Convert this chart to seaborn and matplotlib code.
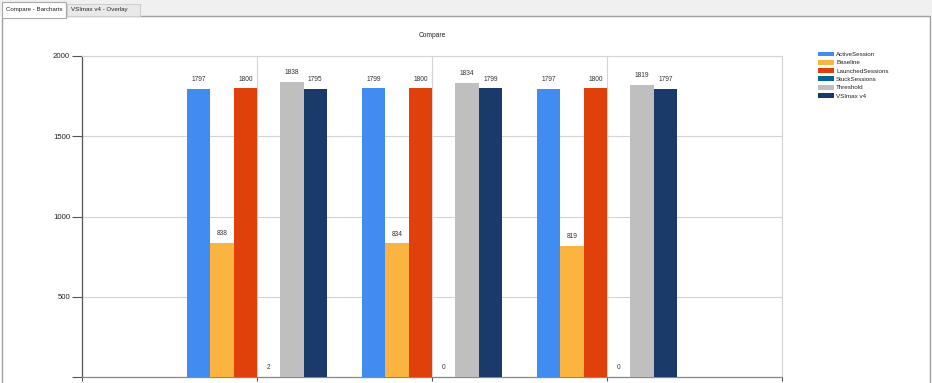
import matplotlib
matplotlib.use("Agg")
import matplotlib.pyplot as plt
from matplotlib.patches import Rectangle
import seaborn as sns
import pandas as pd

runs = ["Run 1", "Run 2", "Run 3"]
series = ["ActiveSession", "Baseline", "LaunchedSessions", "StuckSessions", "Threshold", "VSImax v4"]
active_session = [1797, 1799, 1797]
baseline = [838, 834, 819]
launched_sessions = [1800, 1800, 1800]
stuck_sessions = [2, 0, 0]
threshold = [1838, 1834, 1819]
vsimax_v4 = [1795, 1799, 1797]
colors = ["#418CF0", "#FCB441", "#E0400A", "#056492", "#BFBFBF", "#1A3B69"]
y_ticks = [0, 500, 1000, 1500, 2000]
y_tick_labels = ["", "500", "1000", "1500", "2000"]
tab_labels = ["Compare - Barcharts", "VSImax v4 - Overlay"]
title = "Compare"

values = [active_session, baseline, launched_sessions, stuck_sessions, threshold, vsimax_v4]
rows = []
for s, vals in zip(series, values):
    for r, v in zip(runs, vals):
        rows.append({"run": r, "series": s, "value": v})
df = pd.DataFrame(rows)

sns.set_theme(style="white")
plt.rcParams["font.family"] = ["Liberation Sans", "DejaVu Sans"]

W, H = 932, 383
fig = plt.figure(figsize=(W / 100, H / 100), dpi=100)
fig.patch.set_facecolor("white")

def fx(x):
    return x / W

def fy(y):
    return 1 - y / H

# Tab strip / window frame
fig.patches.append(Rectangle((0, fy(16)), 1, 16 / H, transform=fig.transFigure,
                             facecolor="#f0f0f0", edgecolor="none", zorder=0))
fig.patches.append(Rectangle((fx(2), -0.01), fx(927.5), fy(16) + 0.01, transform=fig.transFigure,
                             facecolor="white", edgecolor="#a0a0a0", linewidth=1.0, zorder=1))
fig.patches.append(Rectangle((fx(67), fy(16)), fx(73), 12 / H, transform=fig.transFigure,
                             facecolor="#e9e9e9", edgecolor="#cfcfcf", linewidth=0.8, zorder=1))
fig.patches.append(Rectangle((fx(2), fy(17.5)), fx(64), 16 / H, transform=fig.transFigure,
                             facecolor="white", edgecolor="#a8a8a8", linewidth=0.8, zorder=2))
fig.patches.append(Rectangle((fx(2.6), fy(17.5)), fx(62.8), 2.5 / H, transform=fig.transFigure,
                             facecolor="white", edgecolor="none", zorder=3))
fig.text(fx(6), fy(9), tab_labels[0], fontsize=4.4, color="#222222", va="center", ha="left", zorder=4)
fig.text(fx(71), fy(10), tab_labels[1], fontsize=4.4, color="#222222", va="center", ha="left", zorder=4)

ax = fig.add_axes([fx(82), 1 - 377 / H, fx(700), (377 - 56) / H])
ax.set_zorder(10)
ax.set_facecolor("none")
sns.barplot(data=df, x="run", y="value", hue="series", hue_order=series,
            palette=colors, width=0.8, gap=0, saturation=1, ax=ax, legend=True,
            edgecolor="none", linewidth=0, zorder=3)

for c in ax.containers:
    ax.bar_label(c, fmt="%d", fontsize=4.8, color="#333333", padding=4)

ax.set_xlim(-1, 3)
ax.set_ylim(0, 2000)
ax.set_yticks(y_ticks)
ax.set_yticklabels(y_tick_labels, fontsize=5.6, color="#222222")
ax.set_xticks([-1, 0, 1, 2, 3])
ax.set_xticklabels([])
ax.set_xlabel("")
ax.set_ylabel("")
ax.grid(True, axis="both", color="#d4d4d4", linewidth=0.8, zorder=0)
ax.set_axisbelow(True)
ax.tick_params(axis="y", direction="out", length=7, width=0.8, color="#555555", pad=1.5, left=True)
ax.tick_params(axis="x", direction="out", length=3, width=0.8, color="#555555", bottom=True)
for side in ["top", "right"]:
    ax.spines[side].set_color("#d4d4d4")
    ax.spines[side].set_linewidth(0.8)
ax.spines["left"].set_color("#555555")
ax.spines["left"].set_linewidth(0.9)
ax.spines["bottom"].set_color("#888888")
ax.spines["bottom"].set_linewidth(0.9)

ax.set_title(title, fontsize=4.8, color="#222222", pad=13.5)

handles, labels = ax.get_legend_handles_labels()
ax.get_legend().remove()
leg = fig.legend(handles, labels, loc="upper left", bbox_to_anchor=(fx(818), fy(51.5)),
                 bbox_transform=fig.transFigure, frameon=False, fontsize=4.5,
                 handlelength=2.6, handleheight=0.85, handletextpad=0.3,
                 labelspacing=0.42, borderaxespad=0, borderpad=0)
leg.set_zorder(20)
for t in leg.get_texts():
    t.set_color("#222222")

fig.savefig("out.png", dpi=100)
